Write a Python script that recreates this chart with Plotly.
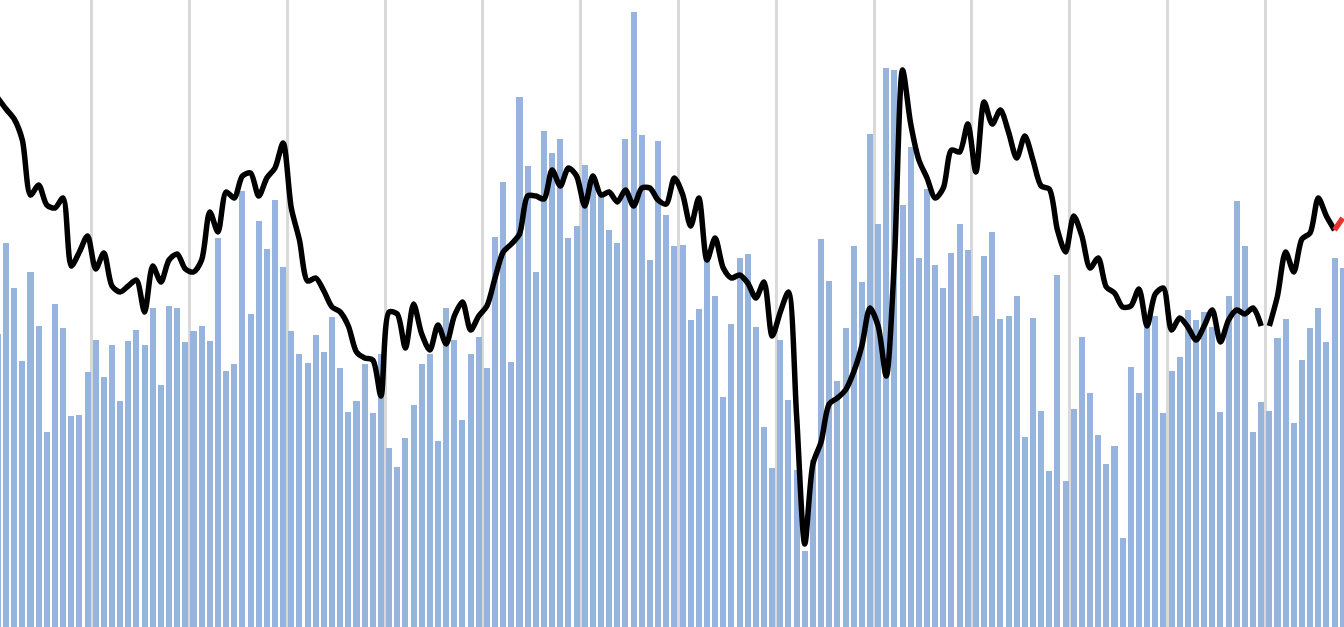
import plotly.graph_objects as go

bars = [293,384,339,266,355,301,195,323,299,211,212,255,287,250,282,226,286,297,282,319,
242,321,319,285,296,301,286,389,256,263,436,313,406,378,427,360,296,273,264,292,275,310,259,
215,226,263,214,273,179,160,189,222,263,273,186,319,287,207,273,290,259,390,445,265,530,461,
355,496,474,488,389,401,462,443,434,397,384,488,615,492,367,486,412,381,
382,307,318,367,331,230,303,369,373,300,200,159,287,227,157,76,167,388,346,246,299,381,345,
493,403,559,557,422,480,369,438,362,339,374,403,377,311,371,395,308,311,
331,190,309,216,156,352,146,218,290,234,192,163,181,89,260,234,307,311,214,256,270,317,307,
315,300,215,331,426,381,195,225,216,289,308,204,267,299,319,285,369,359]

line = [529,518,508,487,432,442,422,419,429,361,375,391,358,374,341,335,341,347,315,361,
345,367,373,358,355,367,415,395,435,429,451,454,431,449,459,484,419,387,346,349,336,320,315,
301,275,269,267,231,315,313,279,323,293,277,302,283,311,325,297,311,321,349,375,383,393,431,
431,428,457,441,459,451,421,451,432,435,425,437,421,439,439,427,423,449,
433,401,429,367,389,359,349,352,344,329,345,291,315,335,211,83,163,185,223,229,237,255,281,
319,301,251,367,557,503,467,449,429,439,477,475,503,455,525,503,517,495,
469,491,467,441,438,397,375,411,391,359,369,340,334,320,321,338,301,333,339,297,309,300,287,
301,317,285,307,317,313,319,301,301,331,375,355,388,394,429,411,397,409]

x = list(range(len(bars)))
grid_x = [11.5 + 12 * k for k in range(14)]

fig = go.Figure()
fig.add_trace(go.Bar(x=x, y=bars, width=0.74, marker=dict(color="#97b4df", line=dict(width=0))))
fig.add_trace(go.Scatter(x=x[:156], y=line[:156], line=dict(color="black", width=5.5, shape="spline", smoothing=0.8), mode="lines"))
fig.add_trace(go.Scatter(x=x[156:165], y=line[156:165], line=dict(color="black", width=5.5, shape="spline", smoothing=0.8), mode="lines"))
fig.add_trace(go.Scatter(x=x[164:], y=line[164:], line=dict(color="#e8322b", width=5.5), mode="lines"))

fig.update_layout(
    width=1344, height=627, margin=dict(l=0, r=0, t=0, b=0),
    plot_bgcolor="white", paper_bgcolor="white", showlegend=False, bargap=0,
    xaxis=dict(range=[0.26, 165.16], tickvals=grid_x, showgrid=True, gridcolor="#d9d9d9",
               gridwidth=2.5, showticklabels=False, zeroline=False, ticks=""),
    yaxis=dict(range=[0, 627], showgrid=False, showticklabels=False, zeroline=False),
)
fig.write_html("out.html", config={"displayModeBar": False},
               post_script="document.body.style.margin='0';document.body.style.overflow='hidden';")
